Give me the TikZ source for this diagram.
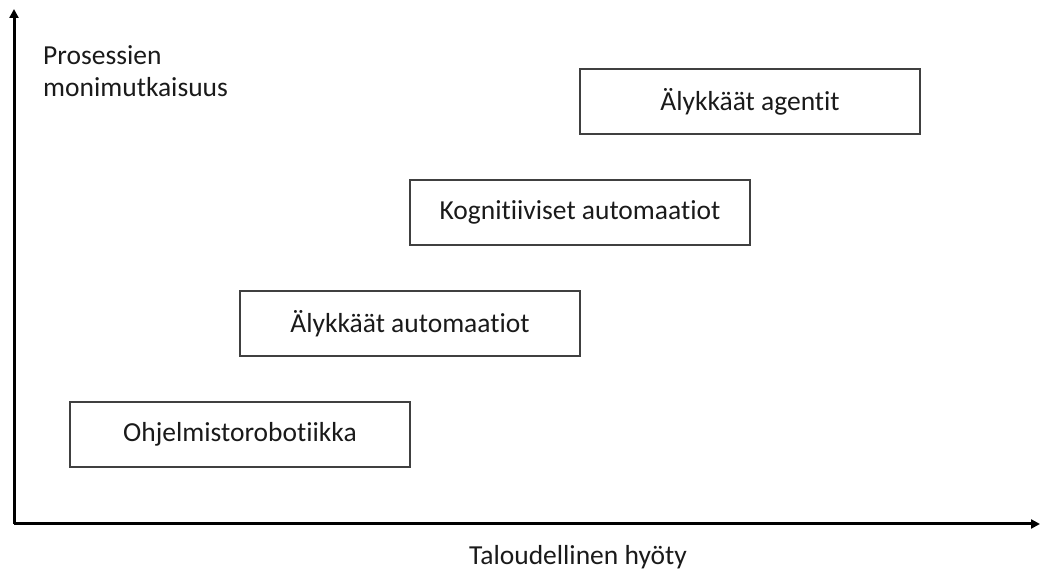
\documentclass[tikz,border=0pt]{standalone}
\usepackage{fontspec}
\setmainfont[Ligatures=NoCommon]{Carlito}
\usetikzlibrary{arrows.meta}
\definecolor{txt}{HTML}{1A1A1A}
\definecolor{boxline}{HTML}{404040}
\tikzset{
  stagebox/.style={draw=boxline, line width=1.5pt, minimum width=340pt, minimum height=65pt, inner sep=0pt, text=txt, font=\fontsize{27.5}{32}\selectfont},
  axisline/.style={line width=3pt, -{Triangle[length=9pt,width=9pt]}},
  axislabel/.style={text=txt, font=\fontsize{27.5}{32}\selectfont, inner sep=0pt}
}
\begin{document}
\begin{tikzpicture}[x=1pt,y=1pt]
\useasboundingbox (0,0) rectangle (1041,572);
\coordinate (origin) at (14,48);
\coordinate (ytip) at (14,563);
\coordinate (xtip) at (1040,48);
\draw[axisline] (origin) -- (ytip);
\draw[axisline] (origin) -- (xtip);
\node[stagebox] (b1) at (240,137.5) {Ohjelmistorobotiikka};
\node[stagebox] (b2) at (410,248.5) {Älykkäät automaatiot};
\node[stagebox] (b3) at (580,359.5) {Kognitiiviset automaatiot};
\node[stagebox] (b4) at (750,470.5) {Älykkäät agentit};
\node[axislabel, anchor=base west, align=left] (ylab) at (43,475) {Prosessien\\monimutkaisuus};
\node[axislabel, anchor=base] (xlab) at (578,7) {Taloudellinen hyöty};
\end{tikzpicture}
\end{document}
